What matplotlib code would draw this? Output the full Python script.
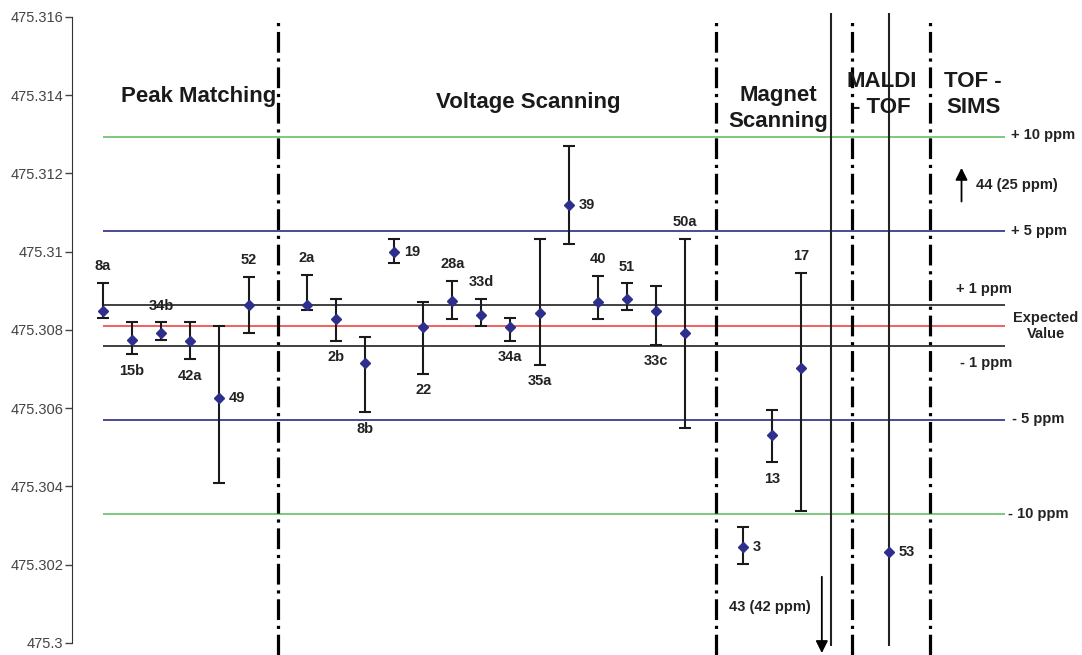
import matplotlib
matplotlib.use("Agg")
import matplotlib.pyplot as plt

plt.rcParams["font.family"] = ["Liberation Sans", "DejaVu Sans"]

# ── data ────────────────────────────────────────────────────────────────
labels = ["8a", "15b", "34b", "42a", "49", "52",
          "2a", "2b", "8b", "19", "22", "28a", "33d", "34a", "35a", "39",
          "40", "51", "33c", "50a",
          "3", "13", "17"]
xpos = [0, 1, 2, 3, 4, 5,
        7, 8, 9, 10, 11, 12, 13, 14, 15, 16, 17, 18, 19, 20,
        22, 23, 24]
mass = [475.30847, 475.30774, 475.30793, 475.30772, 475.30625, 475.30863,
        475.30863, 475.30827, 475.30716, 475.30999, 475.30807, 475.30874,
        475.30837, 475.30807, 475.30843, 475.31120, 475.30871, 475.30879,
        475.30847, 475.30792,
        475.30245, 475.30532, 475.30702]
upper = [475.30921, 475.30819, 475.30819, 475.30819, 475.30811, 475.30936,
         475.30941, 475.30879, 475.30782, 475.31032, 475.30870, 475.30926,
         475.30879, 475.30830, 475.31032, 475.31271, 475.30938, 475.30919,
         475.30912, 475.31032,
         475.30295, 475.30596, 475.30946]
lower = [475.30831, 475.30738, 475.30773, 475.30725, 475.30408, 475.30792,
         475.30851, 475.30772, 475.30590, 475.30970, 475.30688, 475.30827,
         475.30810, 475.30772, 475.30711, 475.31019, 475.30827, 475.30851,
         475.30762, 475.30550,
         475.30201, 475.30462, 475.30338]
label_side = ["above", "below", "above", "below", "right", "above",
              "above", "below", "below", "right", "below", "above", "above",
              "below", "below", "right", "above", "above", "below", "above",
              "right", "below", "above"]

# MALDI-TOF point (no error bar)
maldi_x, maldi_mass = 27, 475.30231

# reference lines (ppm)
ref_names = ["+ 10 ppm", "+ 5 ppm", "+ 1 ppm", "Expected\nValue",
             "- 1 ppm", "- 5 ppm", "- 10 ppm"]
ref_values = [475.31293, 475.31053, 475.30864, 475.30810,
              475.30759, 475.30570, 475.30330]
ref_colors = ["#7dc87d", "#4a4a96", "#404040", "#f26060",
              "#404040", "#4a4a96", "#7dc87d"]

# section boundaries & titles
section_bounds = [6.0, 21.07, 25.74, 28.42]
solid_lines = [25.0, 27.0]
section_titles = ["Peak Matching", "Voltage Scanning", "Magnet\nScanning",
                  "MALDI\n- TOF", "TOF -\nSIMS"]
title_x = [3.27, 14.6, 23.2, 26.77, 29.9]
title_y = [475.31397, 475.31382, 475.31365, 475.31402, 475.31402]

# off-scale results
off_labels = ["43 (42 ppm)", "44 (25 ppm)"]
off_x = [24.7, 29.5]
off_from = [475.30169, 475.31128]
off_to = [475.29974, 475.31214]

yticks = [475.300, 475.302, 475.304, 475.306, 475.308,
          475.310, 475.312, 475.314, 475.316]

# ── figure ──────────────────────────────────────────────────────────────
fig = plt.figure(figsize=(10.82, 6.55), dpi=100)
ax = fig.add_axes([0, 0, 1, 1])
ax.set_xlim(-3.54, 33.64)
ax.set_ylim(475.29969, 475.31643)

for s in ["top", "right", "bottom"]:
    ax.spines[s].set_visible(False)
ax.spines["left"].set_position(("data", -1.07))
ax.spines["left"].set_bounds(475.300, 475.316)
ax.spines["left"].set_color("#333333")
ax.set_xticks([])
ax.set_yticks(yticks)
ax.set_yticklabels([f"{v:.3f}".rstrip("0") for v in yticks])
ax.tick_params(axis="y", direction="out", length=5, width=1,
               colors="#444444", labelsize=10.5, pad=1)

# reference lines + labels on right
for name, val, col in zip(ref_names, ref_values, ref_colors):
    ax.hlines(val, 0, 31.0, color=col, lw=1.4, zorder=2)

right_lab_x = [31.2, 31.2, 29.3, 32.4, 29.45, 31.25, 31.1]
right_lab_y = [475.31298, 475.31053, 475.30905, 475.30810,
               475.30715, 475.30573, 475.30330]
for name, lx, ly in zip(ref_names, right_lab_x, right_lab_y):
    ha = "center" if "\n" in name else "left"
    ax.text(lx, ly, name, ha=ha, va="center", fontsize=10.5,
            fontweight="bold", color="#222222", linespacing=1.2)

# section separators
dash = (0, (6.5, 1.8, 1.0, 1.8))
for bx in section_bounds:
    ax.plot([bx, bx], [475.29969, 475.31595], color="black", lw=2.3,
            linestyle=dash, zorder=3)
for sx in solid_lines:
    ax.vlines(sx, 475.29992, 475.31611, color="#222222", lw=1.5, zorder=3)

for t, tx, ty in zip(section_titles, title_x, title_y):
    ax.text(tx, ty, t, ha="center", va="center", fontsize=16,
            fontweight="bold", color="#1a1a1a", linespacing=1.3)

# data with asymmetric error bars
yerr = [[m - lo for m, lo in zip(mass, lower)],
        [up - m for m, up in zip(mass, upper)]]
ax.errorbar(xpos, mass, yerr=yerr, fmt="D", color="#2e2e8c", ms=5.5,
            ecolor="#1a1a1a", elinewidth=1.5, capsize=4.5, capthick=1.5,
            zorder=5)
ax.plot([maldi_x], [maldi_mass], "D", color="#2e2e8c", ms=5.5, zorder=5)

for lab, x, m, up, lo, side in zip(labels, xpos, mass, upper, lower,
                                   label_side):
    if side == "above":
        ax.annotate(lab, (x, up), xytext=(0, 12), textcoords="offset points",
                    ha="center", va="center", fontsize=10.5,
                    fontweight="bold", color="#222222")
    elif side == "below":
        ax.annotate(lab, (x, lo), xytext=(0, -12), textcoords="offset points",
                    ha="center", va="center", fontsize=10.5,
                    fontweight="bold", color="#222222")
    else:
        ax.annotate(lab, (x, m), xytext=(7, 0), textcoords="offset points",
                    ha="left", va="center", fontsize=10.5,
                    fontweight="bold", color="#222222")
ax.annotate("53", (maldi_x, maldi_mass), xytext=(7, 0),
            textcoords="offset points", ha="left", va="center",
            fontsize=10.5, fontweight="bold", color="#222222")

# arrows for off-scale points
for lab, x, y0, y1 in zip(off_labels, off_x, off_from, off_to):
    ax.annotate("", xy=(x, y1), xytext=(x, y0),
                arrowprops=dict(arrowstyle="-|>", color="black", lw=1.3,
                                mutation_scale=18, shrinkA=0, shrinkB=0))
ax.text(22.9, 475.30092, off_labels[0], ha="center", va="center",
        fontsize=10.5, fontweight="bold", color="#222222")
ax.text(30.0, 475.31170, off_labels[1], ha="left", va="center",
        fontsize=10.5, fontweight="bold", color="#222222")

fig.savefig("out.png", dpi=100)
